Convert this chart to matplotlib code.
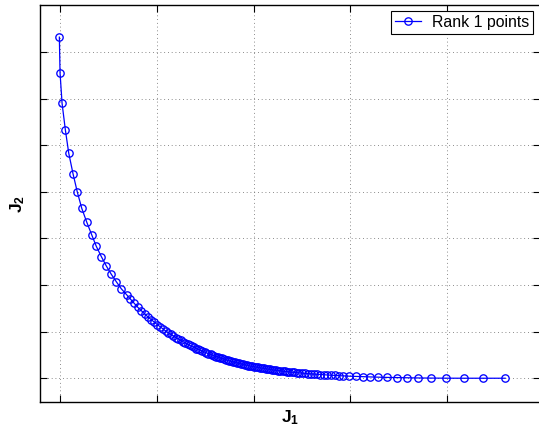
import matplotlib
matplotlib.use('Agg')
import matplotlib.pyplot as plt

plt.rcParams['font.family'] = ['Liberation Sans', 'DejaVu Sans']
plt.rcParams['mathtext.fontset'] = 'custom'
plt.rcParams['mathtext.rm'] = 'Liberation Sans'
plt.rcParams['mathtext.bf'] = 'Liberation Sans:bold'

# Rank 1 points (dense part estimated)
j1 = [-0.007, 0.000, 0.021, 0.055, 0.090, 0.134, 0.178, 0.224, 0.276, 0.327,
      0.375, 0.427, 0.478, 0.530, 0.582, 0.633, 0.689,
      0.728, 0.767, 0.804, 0.840, 0.875, 0.909, 0.942, 0.974, 1.005, 1.035,
      1.064, 1.092, 1.119, 1.146, 1.171, 1.197, 1.222, 1.247, 1.271, 1.294,
      1.318, 1.341, 1.364, 1.386, 1.408, 1.430, 1.451, 1.472, 1.493, 1.513,
      1.534, 1.555, 1.574, 1.594, 1.614, 1.633, 1.653, 1.673, 1.692, 1.712,
      1.731, 1.751, 1.771, 1.790, 1.810, 1.830, 1.849, 1.869, 1.888, 1.908,
      1.928, 1.947, 1.967, 1.987, 2.006, 2.026, 2.045, 2.065, 2.085, 2.105,
      2.126, 2.147, 2.167, 2.188, 2.210, 2.231, 2.253, 2.276, 2.299, 2.322,
      2.346, 2.371, 2.396, 2.421, 2.447, 2.474, 2.502, 2.531, 2.561, 2.592,
      2.624, 2.657, 2.691, 2.726, 2.762, 2.800, 2.839, 2.880, 2.926,
      2.991, 3.058, 3.128, 3.205, 3.288, 3.378, 3.478, 3.585, 3.704, 3.838,
      3.993, 4.174, 4.375, 4.600]
j2 = [7.32, 6.56, 5.90, 5.33, 4.83, 4.39, 4.00, 3.65, 3.35, 3.08,
      2.83, 2.61, 2.41, 2.23, 2.07, 1.92, 1.79,
      1.698, 1.607, 1.522, 1.450, 1.380, 1.315, 1.259, 1.204, 1.152, 1.104,
      1.058, 1.013, 0.975, 0.940, 0.908, 0.874, 0.844, 0.814, 0.785, 0.757,
      0.731, 0.707, 0.683, 0.660, 0.638, 0.618, 0.599, 0.580, 0.561, 0.545,
      0.528, 0.511, 0.496, 0.480, 0.465, 0.452, 0.438, 0.424, 0.411, 0.398,
      0.386, 0.374, 0.362, 0.351, 0.340, 0.329, 0.320, 0.309, 0.299, 0.289,
      0.280, 0.271, 0.263, 0.254, 0.246, 0.239, 0.232, 0.225, 0.218, 0.211,
      0.204, 0.197, 0.190, 0.182, 0.176, 0.170, 0.165, 0.159, 0.153, 0.148,
      0.142, 0.135, 0.129, 0.124, 0.120, 0.115, 0.110, 0.105, 0.100, 0.094,
      0.090, 0.085, 0.080, 0.075, 0.070, 0.065, 0.061, 0.056, 0.051,
      0.044, 0.039, 0.034, 0.028, 0.023, 0.018, 0.014, 0.010, 0.006, 0.003,
      0.001, 0.0, 0.0, 0.0]

xticks = [0, 1, 2, 3, 4]
yticks = [0, 1, 2, 3, 4, 5, 6, 7]

fig = plt.figure(figsize=(5.39, 4.28), dpi=100)
ax = fig.add_axes([40 / 539, 26 / 428, 500 / 539, 397 / 428])

ax.plot(j1, j2, color='blue', linestyle='-', linewidth=0.9, marker='o',
        markersize=5.3, markerfacecolor='none', markeredgewidth=0.95,
        label='Rank 1 points')

ax.set_xlim(-0.207, 4.96)
ax.set_ylim(-0.51, 8.01)
ax.set_xticks(xticks)
ax.set_yticks(yticks)
ax.set_xticklabels([])
ax.set_yticklabels([])
ax.tick_params(direction='in', length=5, width=0.8, top=True, right=True)

# grid punteado estilo matlab
ax.grid(True, color='0.4', linestyle=(0, (1, 3.5)), linewidth=0.6)

for s in ax.spines.values():
    s.set_linewidth(1.0)

ax.set_xlabel(r'$\mathbf{J_1}$', fontsize=12.5, labelpad=1)
ax.set_ylabel(r'$\mathbf{J_2}$', fontsize=12.5, labelpad=6)

leg = ax.legend(loc='upper right', fontsize=11.4, fancybox=False, framealpha=1,
                edgecolor='black', borderaxespad=0, handlelength=1.6,
                borderpad=0.25, handletextpad=0.7,
                bbox_to_anchor=(0.986, 0.9856))
leg.get_frame().set_linewidth(0.8)

plt.savefig('out.png', dpi=100)
